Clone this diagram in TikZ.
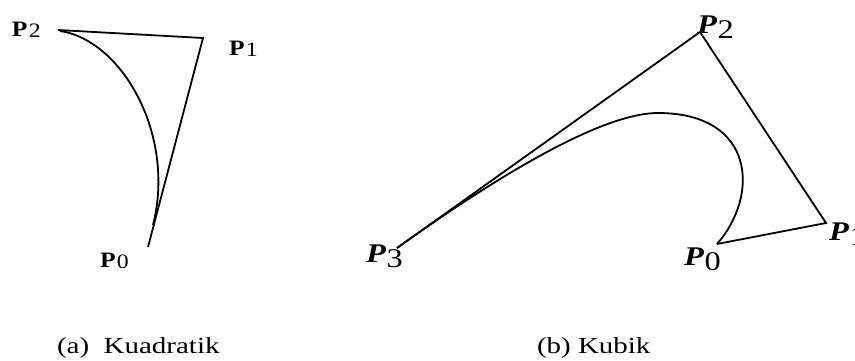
\documentclass[tikz,border=0pt]{standalone}
\usepackage{fontspec}
\setmainfont{Liberation Serif}
\tikzset{
  edge/.style={line width=1.8pt, line join=miter},
  lbl/.style={inner sep=0pt, outer sep=0pt, anchor=base west},
}
\newcommand{\lptL}[1]{\fontsize{22}{22}\selectfont\scalebox{1.16}[1]{\textbf{P}\kern1.2pt\raisebox{-1.5pt}{\fontsize{20.5}{20.5}\selectfont #1}}}
\newcommand{\lptR}[1]{\fontsize{27}{27}\selectfont\scalebox{1.2}[1]{\textbf{\textit{P}}\kern0.5pt\raisebox{-5pt}{#1}}}
\newcommand{\capt}[1]{\fontsize{23}{23}\selectfont\scalebox{1.26}[1]{#1}}
\begin{document}
\begin{tikzpicture}[x=1pt,y=-1pt]
\useasboundingbox (0,0) rectangle (855,360);
% left: quadratic
\coordinate (a2) at (58,30);
\coordinate (a1) at (203,38);
\coordinate (a0) at (148,247);
\coordinate (as) at (60,31);
\coordinate (ae) at (153,225);
\draw[edge] (a2) -- (a1) -- (a0);
\draw[edge] (as) .. controls (122,40) and (176,135) .. (ae);
\node[lbl] (la2) at (12,36) {\lptL{2}};
\node[lbl] (la1) at (229,55) {\lptL{1}};
\node[lbl] (la0) at (100,267) {\lptL{0}};
% right: cubic
\coordinate (b2) at (700,32);
\coordinate (b1) at (826,223);
\coordinate (b0) at (717,244);
\coordinate (b3) at (397,248);
\coordinate (bm) at (658,113);
\draw[edge] (b3) -- (b2) -- (b1) -- (b0);
\draw[edge] (b0) .. controls (760,195) and (755,113) .. (bm)
                 .. controls (598,113) and (485,185) .. (b3);
\node[lbl] (lb2) at (697,33) {\lptR{2}};
\node[lbl] (lb3) at (366,262) {\lptR{3}};
\node[lbl] (lb0) at (684,265) {\lptR{0}};
\node[lbl] (lb1) at (829,240) {\lptR{1}};
% captions
\node[lbl] (capa) at (57,353) {\capt{(a)\ \ Kuadratik}};
\node[lbl] (capb) at (537,353) {\capt{(b) Kubik}};
\end{tikzpicture}
\end{document}
